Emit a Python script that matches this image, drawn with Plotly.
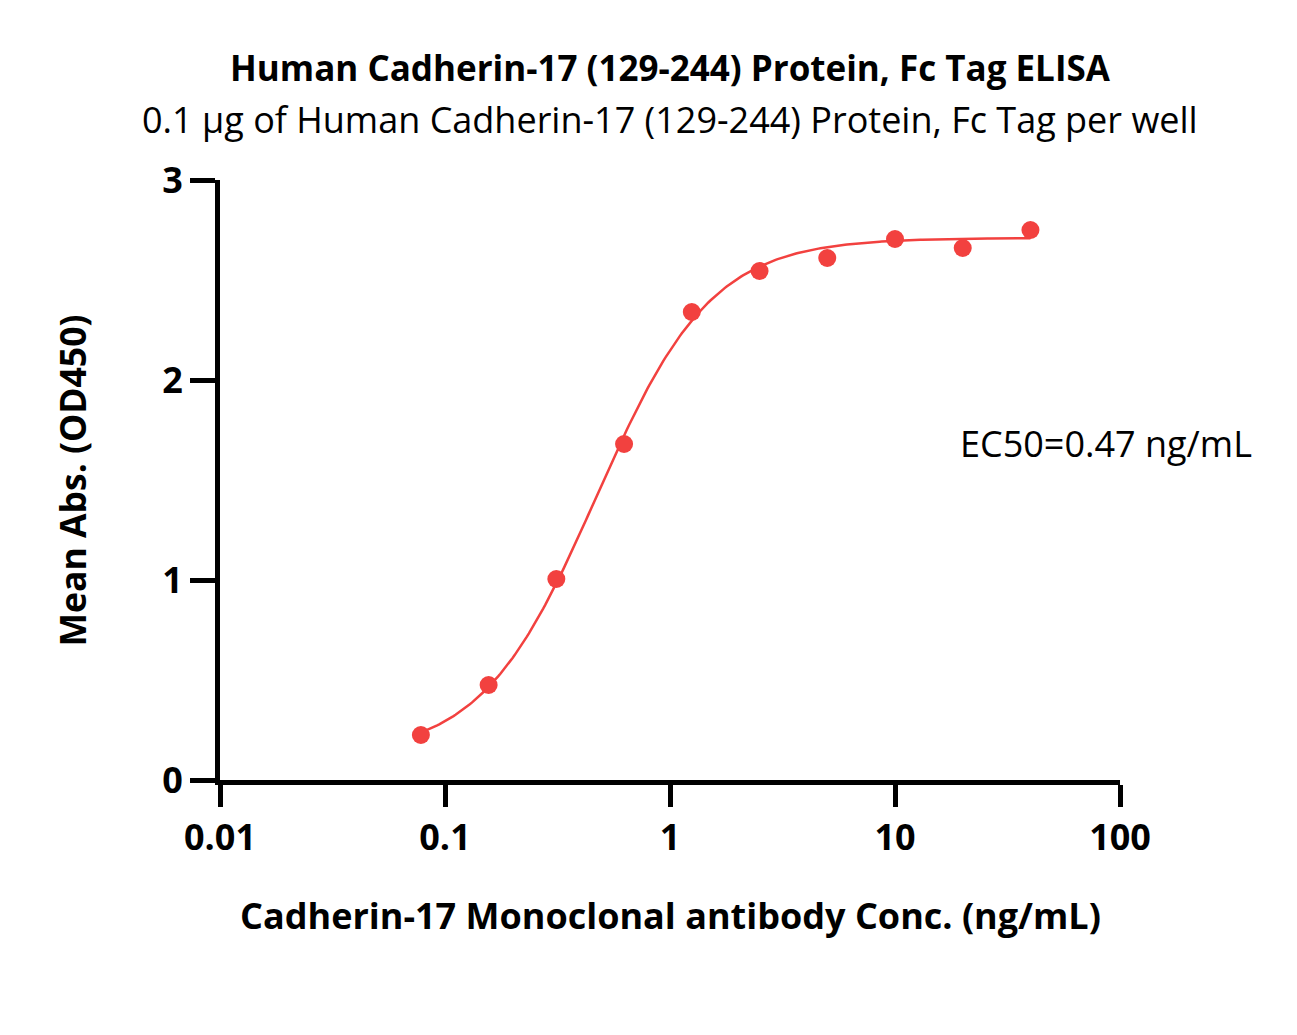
import numpy as np
import plotly.graph_objects as go

# Data
conc = [0.078125, 0.15625, 0.3125, 0.625, 1.25, 2.5, 5, 10, 20, 40]
od450 = [0.225, 0.475, 1.005, 1.68, 2.34, 2.545, 2.61, 2.705, 2.66, 2.75]

# 4PL fit parameters (estimated)
bottom, top, ec50, hill = 0.12, 2.71, 0.47, 1.7

x_ticks = [0.01, 0.1, 1, 10, 100]
x_tick_text = ["0.01", "0.1", "1", "10", "100"]
y_ticks = [0, 1, 2, 3]

xc = np.logspace(np.log10(conc[0]), np.log10(conc[-1]), 300)
yc = bottom + (top - bottom) / (1 + (ec50 / xc) ** hill)

red = "#F2413F"
FONT = "'Open Sans', Lato, sans-serif"

fig = go.Figure()
fig.add_trace(go.Scatter(x=xc, y=yc, mode="lines", line=dict(color=red, width=2.5),
                         showlegend=False, hoverinfo="skip"))
fig.add_trace(go.Scatter(x=conc, y=od450, mode="markers",
                         marker=dict(color=red, size=18), showlegend=False))

fig.update_layout(
    width=1297, height=1035,
    margin=dict(l=220, r=177, t=180, b=255),
    paper_bgcolor="white", plot_bgcolor="white",
    font=dict(family=FONT, color="black"),
    xaxis=dict(type="log", range=[-2, 2], tickvals=x_ticks, ticktext=x_tick_text,
               ticks="outside", ticklen=22, tickwidth=5, tickcolor="black",
               showline=True, linewidth=5, linecolor="black",
               showgrid=False, zeroline=False,
               tickfont=dict(size=36, family=FONT, weight="bold")),
    yaxis=dict(range=[0, 3], tickvals=y_ticks,
               ticks="outside", ticklen=25, tickwidth=5, tickcolor="black",
               showline=True, linewidth=5, linecolor="black",
               showgrid=False, zeroline=False,
               tickfont=dict(size=36, family=FONT, weight="bold")),
    annotations=[
        dict(text="<b>Human Cadherin-17 (129-244) Protein, Fc Tag ELISA</b>",
             xref="paper", yref="paper", x=0.5, y=1.187, showarrow=False,
             xanchor="center", yanchor="middle", font=dict(size=35)),
        dict(text="0.1 µg of Human Cadherin-17 (129-244) Protein, Fc Tag per well",
             xref="paper", yref="paper", x=0.5, y=1.1, showarrow=False,
             xanchor="center", yanchor="middle", font=dict(size=36)),
        dict(text="<b>Cadherin-17 Monoclonal antibody Conc. (ng/mL)</b>",
             xref="paper", yref="paper", x=0.5, y=-0.225, showarrow=False,
             xanchor="center", yanchor="middle", font=dict(size=36)),
        dict(text="<b>Mean Abs. (OD450)</b>",
             xref="paper", yref="paper", x=-0.164, y=0.5, showarrow=False,
             xanchor="center", yanchor="middle", textangle=-90, font=dict(size=35.5)),
        dict(text="EC50=0.47 ng/mL", xref="x", yref="y", x=np.log10(19), y=1.685,
             showarrow=False, xanchor="left", yanchor="middle", font=dict(size=36)),
    ],
)

fig.write_html("out.html")
